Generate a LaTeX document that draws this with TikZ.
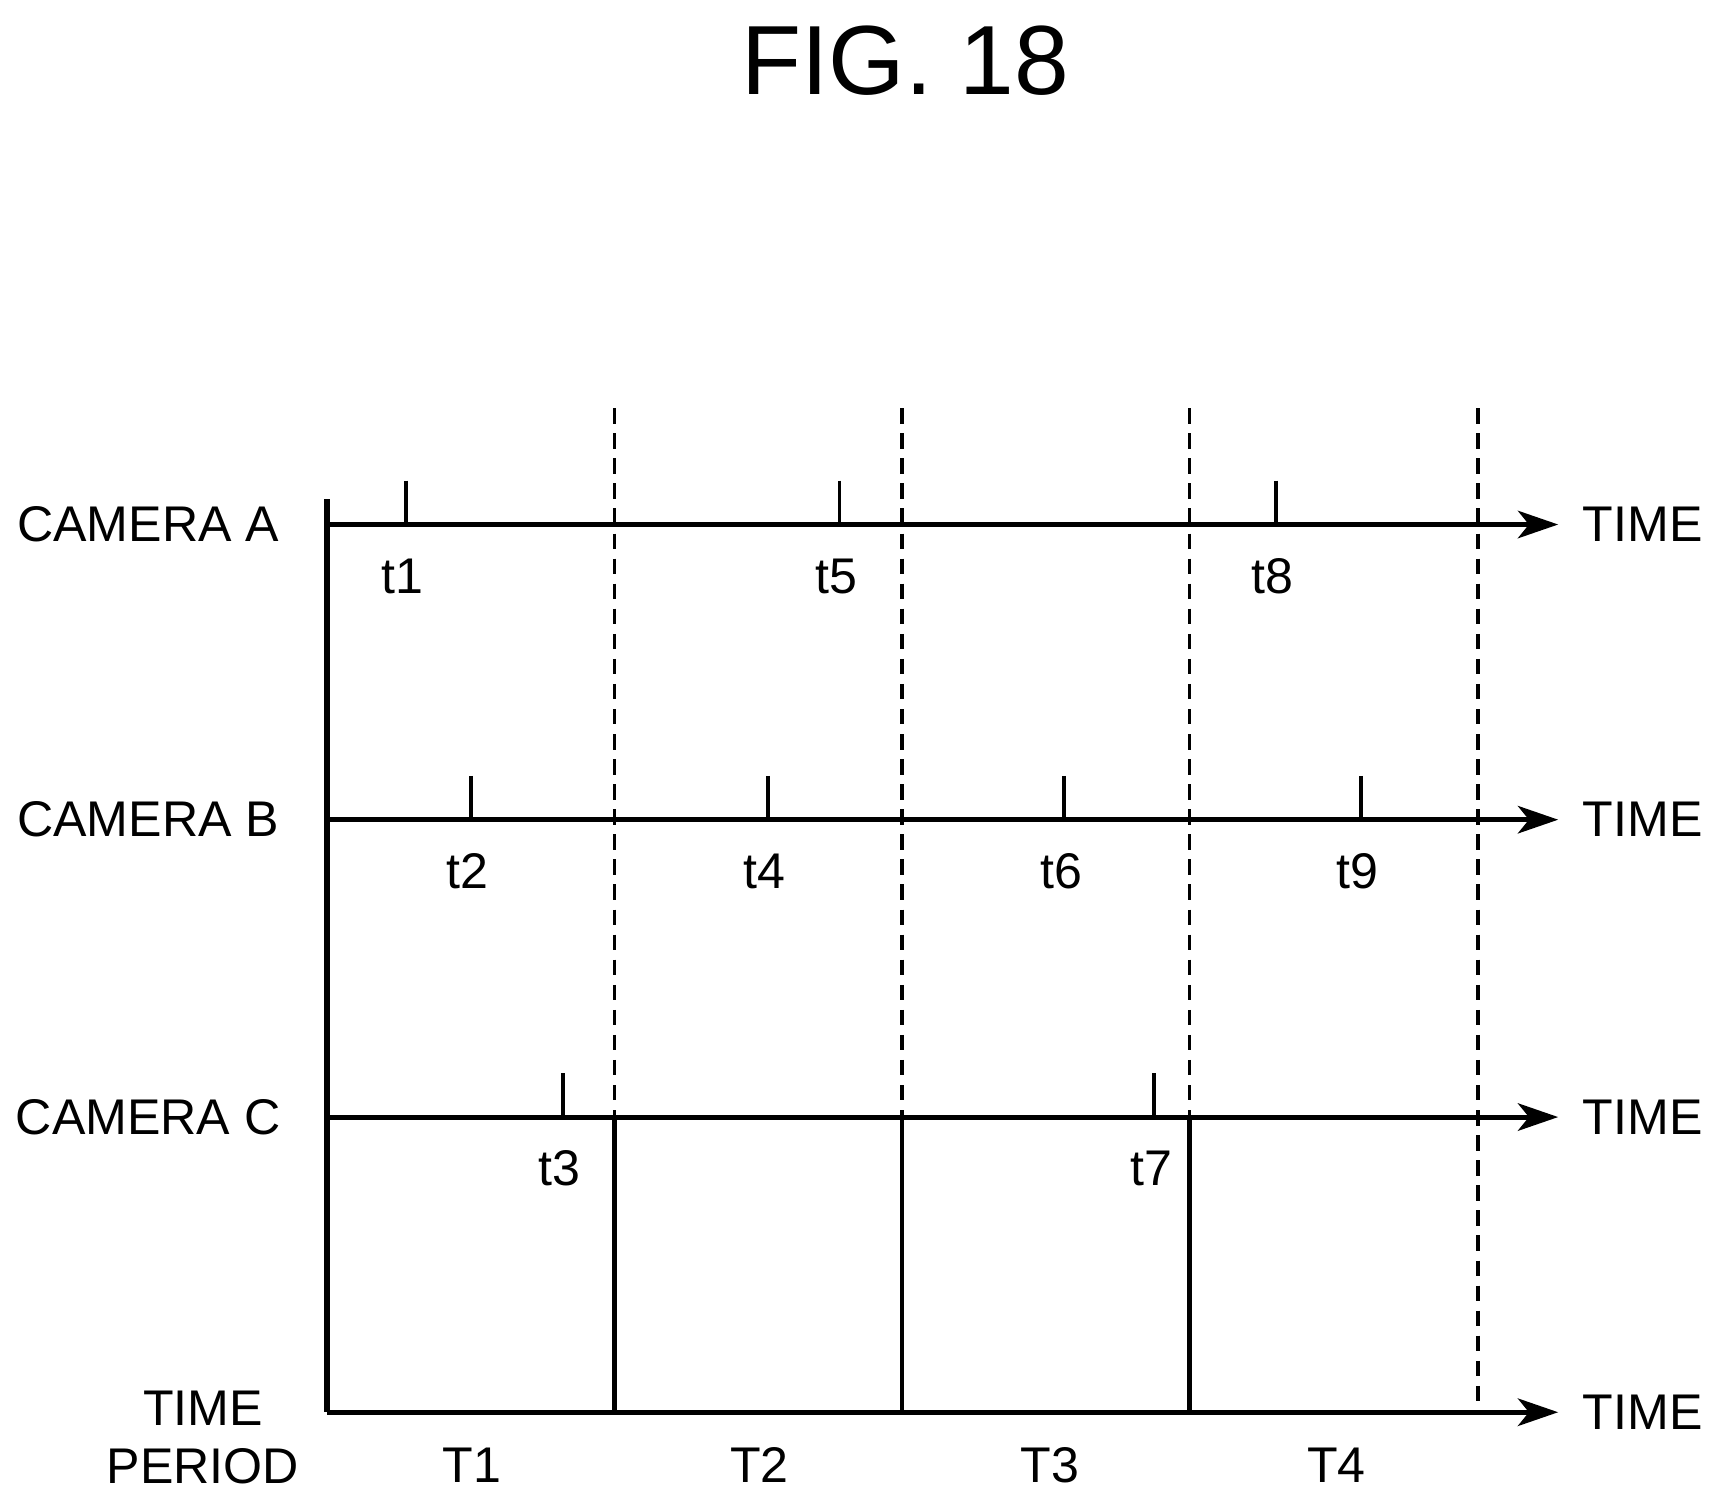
\documentclass[tikz,border=0pt]{standalone}
\usepackage{fontspec}
\setmainfont{Liberation Sans}
\usetikzlibrary{arrows.meta}
\begin{document}
\begin{tikzpicture}[x=0.1mm,y=-0.1mm,
  ax/.style={line width=1.3pt,-{Stealth[length=11mm/3,width=7.5mm/3,inset=1mm]}},
  dl/.style={line width=1pt,dash pattern=on 4pt off 2.5pt},
  tk/.style={line width=1pt},
  lbl/.style={font=\fontsize{13}{15}\selectfont,inner sep=0pt}]
\useasboundingbox (0,0) rectangle (1562,1367);
\node[font=\fontsize{25.5}{28}\selectfont] (title) at (825,55) {FIG. 18};
\coordinate (top) at (298,455);
\coordinate (bot) at (298,1287);
\draw[line width=1.3pt] (top) -- (bot);
\foreach \y/\n in {478/A,747/B,1018/C,1287/P}{
  \coordinate (s\n) at (298,\y);
  \coordinate (e\n) at (1420,\y);
  \draw[ax] (s\n) -- (e\n);
  \node[lbl] (time\n) at (1497,\y) {TIME};
}
\node[lbl] (camA) at (135,478) {CAMERA A};
\node[lbl] (camB) at (135,747) {CAMERA B};
\node[lbl] (camC) at (135,1018) {CAMERA C};
\node[lbl,align=center] (tp) at (185,1310) {TIME\\PERIOD};
\foreach \x in {560,822,1084}{
  \draw[dl] (\x,372) -- (\x,1018);
  \draw[tk,line width=1.2pt] (\x,1018) -- (\x,1287);
}
\draw[dl] (1347,372) -- (1347,1287);
\foreach \x/\l in {430/T1,692/T2,957/T3,1218/T4}
  \node[lbl] (\l) at (\x,1335) {\l};
\foreach \x/\l/\y in {370/t1/478,765/t5/478,1163/t8/478,429/t2/747,700/t4/747,970/t6/747,1240/t9/747,513/t3/1018,1052/t7/1018}{
  \draw[tk] (\x,\y-40) -- (\x,\y);
  \node[lbl] (\l) at (\x-3,\y+47) {\l};
}
\end{tikzpicture}
\end{document}
